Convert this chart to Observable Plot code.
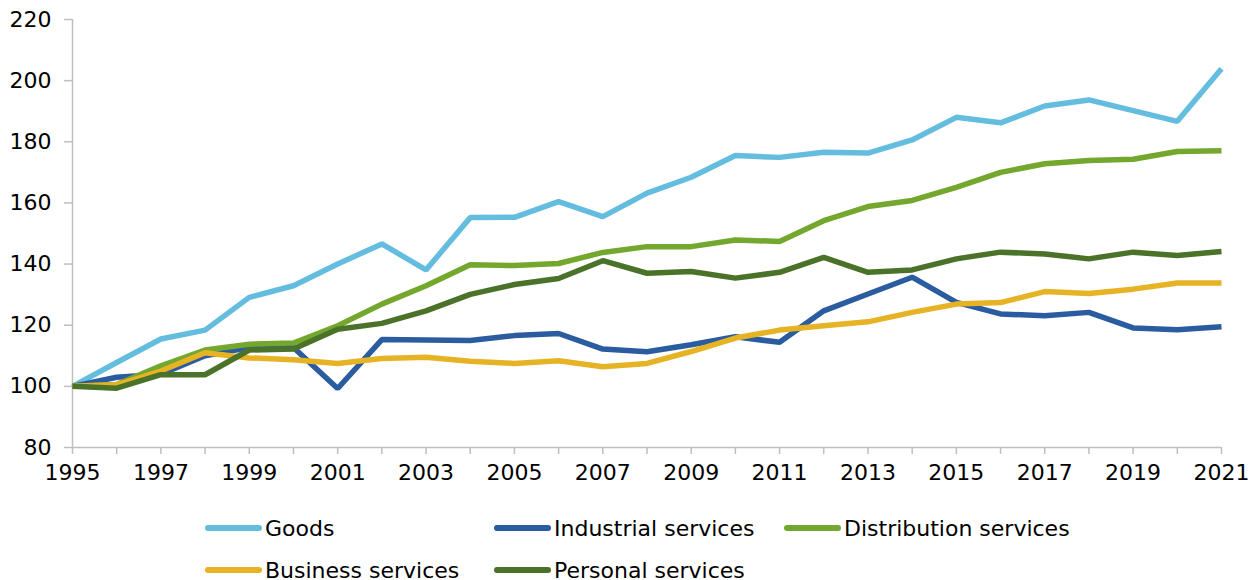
<!DOCTYPE html>
<html>
<head>
<meta charset="utf-8">
<script src="https://cdn.jsdelivr.net/npm/d3@7"></script>
<script src="https://cdn.jsdelivr.net/npm/@observablehq/plot@0.6"></script>
<style>
  html, body { margin: 0; padding: 0; background: #fff; }
  body { width: 1255px; height: 580px; overflow: hidden; font-family: "DejaVu Sans", sans-serif; }
  #legend { position: relative; height: 90px; }
  .item { position: absolute; display: flex; align-items: center; font-size: 22px; color: #000; white-space: nowrap; }
  .sw { width: 57px; height: 6px; border-radius: 3px; margin-right: 3px; }
</style>
</head>
<body>
<div id="chart"></div>
<div id="legend"></div>
<script>
const years = d3.range(1995, 2022);
const seriesNames = ["Goods", "Industrial services", "Distribution services", "Business services", "Personal services"];
const seriesColors = ["#64BDDF", "#2A5C9F", "#74A72E", "#E6B325", "#4B7229"];

const goods = [100, 107.8, 115.5, 118.4, 129.1, 132.9, 140.0, 146.6, 138.1, 155.2, 155.3, 160.4, 155.5, 163.2, 168.4, 175.5, 174.9, 176.6, 176.3, 180.6, 188.0, 186.2, 191.7, 193.7, 190.2, 186.7, 203.9];
const industrial = [100, 103.0, 104.0, 110.0, 112.7, 112.7, 99.3, 115.3, 115.2, 115.0, 116.6, 117.3, 112.2, 111.3, 113.6, 116.2, 114.4, 124.7, 130.2, 135.7, 127.5, 123.7, 123.1, 124.2, 119.1, 118.5, 119.5];
const distribution = [100, 100.6, 106.7, 111.9, 113.8, 114.2, 119.8, 126.9, 132.9, 139.8, 139.5, 140.2, 143.8, 145.7, 145.7, 147.9, 147.4, 154.2, 158.8, 160.8, 165.1, 170.0, 172.8, 173.9, 174.3, 176.8, 177.1];
const business = [100, 100.5, 105.0, 111.0, 109.3, 108.7, 107.5, 109.1, 109.5, 108.2, 107.5, 108.4, 106.4, 107.5, 111.4, 115.8, 118.4, 119.8, 121.1, 124.2, 126.9, 127.4, 131.0, 130.4, 131.8, 133.8, 133.8];
const personal = [100, 99.4, 103.8, 103.8, 111.9, 112.2, 118.7, 120.6, 124.7, 130.1, 133.3, 135.3, 141.1, 137.0, 137.6, 135.4, 137.3, 142.2, 137.3, 138.1, 141.7, 143.9, 143.3, 141.7, 143.9, 142.8, 144.1];
const yTicks = [80, 100, 120, 140, 160, 180, 200, 220];

const seriesValues = [goods, industrial, distribution, business, personal];
const data = [];
seriesNames.forEach((name, i) => {
  years.forEach((yr, j) => data.push({series: name, year: yr, value: seriesValues[i][j]}));
});

const axisGrey = "#BFBFBF";
const chart = Plot.plot({
  width: 1255,
  height: 490,
  marginLeft: 72,
  marginRight: 34,
  marginTop: 19,
  marginBottom: 43,
  style: {fontFamily: "DejaVu Sans, sans-serif", fontSize: "22px", color: "#000", background: "#fff"},
  x: {domain: [1995, 2021]},
  y: {domain: [80, 220]},
  color: {domain: seriesNames, range: seriesColors},
  marks: [
    Plot.ruleX([1995], {stroke: axisGrey, strokeWidth: 1.5}),
    Plot.ruleY([80], {stroke: axisGrey, strokeWidth: 1.5}),
    Plot.axisY({ticks: yTicks, tickSize: 8, tickPadding: 13, stroke: axisGrey, fill: "#000", label: null, strokeWidth: 1.5}),
    Plot.axisX({ticks: years, tickSize: 7, tickPadding: 10, stroke: axisGrey, fill: "#000", label: null, strokeWidth: 1.5,
      tickFormat: d => ((d - 1995) % 2 === 0 ? String(d) : "")}),
    Plot.line(data, {x: "year", y: "value", z: "series", stroke: "series", strokeWidth: 5.5, strokeLinejoin: "miter", strokeLinecap: "butt"})
  ]
});
document.getElementById("chart").appendChild(chart);

const legendPos = [[205, 38], [494, 38], [784, 38], [205, 80], [494, 80]];
const legend = document.getElementById("legend");
seriesNames.forEach((name, i) => {
  const it = document.createElement("div");
  it.className = "item";
  it.style.left = legendPos[i][0] + "px";
  it.style.top = (legendPos[i][1] - 15) + "px";
  it.style.height = "30px";
  const sw = document.createElement("span");
  sw.className = "sw";
  sw.style.background = seriesColors[i];
  const tx = document.createElement("span");
  tx.textContent = name;
  it.appendChild(sw); it.appendChild(tx);
  legend.appendChild(it);
});
</script>
</body>
</html>
